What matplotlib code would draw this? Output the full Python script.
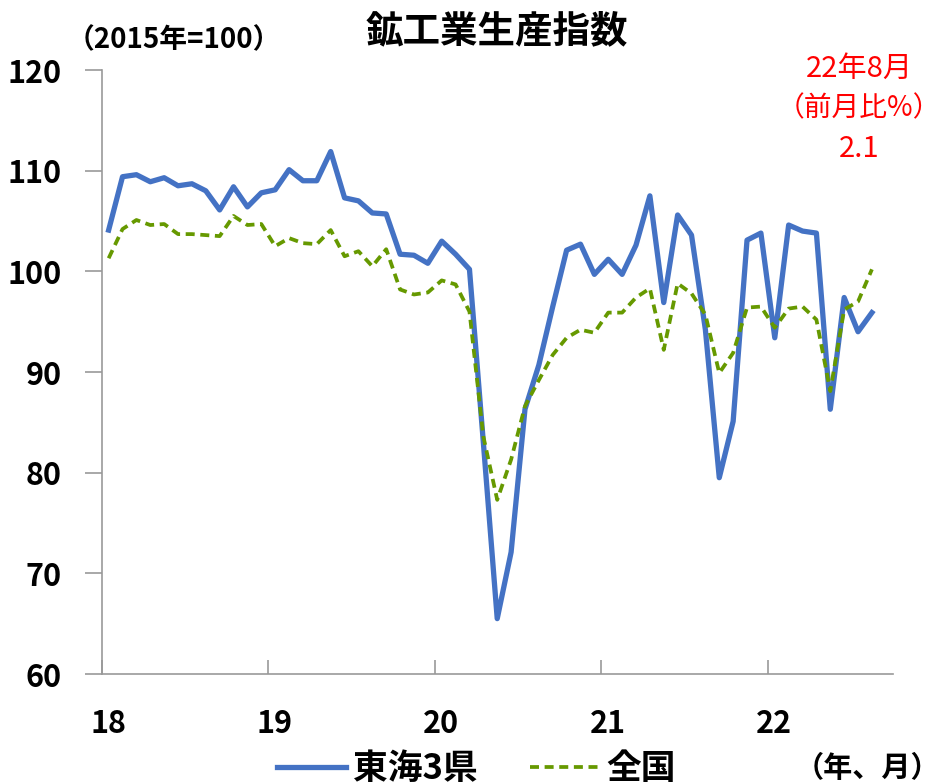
import numpy as np
import matplotlib.pyplot as plt

plt.rcParams['font.family'] = ['Noto Sans CJK JP', 'DejaVu Sans']

# 2018/1 - 2022/8 (monthly, 2015=100)
tokai = [104.1, 109.4, 109.6, 108.9, 109.3, 108.5, 108.7, 108.0, 106.1, 108.4, 106.4, 107.8,
         108.1, 110.1, 109.0, 109.0, 111.9, 107.3, 107.0, 105.8, 105.7, 101.7, 101.6, 100.8,
         103.0, 101.7, 100.2, 83.0, 65.5, 72.1, 86.3, 90.7, 96.5, 102.1, 102.7, 99.7,
         101.2, 99.7, 102.6, 107.5, 96.9, 105.6, 103.6, 94.2, 79.5, 85.1, 103.1, 103.8,
         93.4, 104.6, 104.0, 103.8, 86.3, 97.4, 94.0, 95.9]
zenkoku = [101.3, 104.2, 105.1, 104.6, 104.7, 103.7, 103.7, 103.6, 103.5, 105.5, 104.6, 104.7,
           102.5, 103.3, 102.8, 102.7, 104.1, 101.5, 102.0, 100.5, 102.2, 98.2, 97.7, 97.9,
           99.1, 98.7, 96.0, 83.6, 77.3, 81.3, 86.6, 89.2, 91.7, 93.4, 94.2, 93.9,
           95.9, 95.9, 97.4, 98.3, 92.2, 98.8, 97.8, 95.7, 89.9, 91.9, 96.4, 96.5,
           94.4, 96.3, 96.5, 95.2, 88.1, 96.2, 97.0, 100.2]
years = ['18', '19', '20', '21', '22']
yticks = [60, 70, 80, 90, 100, 110, 120]

fig = plt.figure(figsize=(9.47, 7.84), dpi=100)
ax = fig.add_axes([0.1074, 0.1403, 0.8353, 0.7704])

x = np.arange(len(tokai))
ax.plot(x, tokai, color='#4472C4', lw=3.8, label='東海3県')
ax.plot(x, zenkoku, color='#669900', lw=2.7, ls=(0, (2.4, 1.5)), label='全国')

ax.set_xlim(-0.5, 56.5)
ax.set_ylim(60, 120)
ax.set_yticks(yticks)
ax.set_yticklabels([str(v) for v in yticks], fontsize=22, fontweight='bold')
ax.set_xticks([-0.5 + 12 * i for i in range(len(years))])
ax.set_xticklabels([])
ax.tick_params(axis='x', direction='in', length=10, color='#999999', width=1.2)
ax.tick_params(axis='y', direction='out', length=12, color='#999999', width=1.2, pad=17)
for s in ['top', 'right']:
    ax.spines[s].set_visible(False)
for s in ['left', 'bottom']:
    ax.spines[s].set_color('#999999')
    ax.spines[s].set_linewidth(1.2)

for i, lab in enumerate(years):
    ax.text(12 * i - 0.05, -0.082, lab, transform=ax.get_xaxis_transform(),
            ha='center', va='center', fontsize=22, fontweight='bold')

fig.text(0.525, 1 - 31 / 784, '鉱工業生産指数', ha='center', va='center',
         fontsize=27, fontweight='bold')
fig.text(0.070, 1 - 40 / 784, '（2015年=100）', ha='left', va='center',
         fontsize=20, fontweight='bold')

fig.text(859 / 947, 1 - 69 / 784, '22年8月', ha='center', va='center', fontsize=21, color='red')
fig.text(859 / 947, 1 - 108 / 784, '（前月比%）', ha='center', va='center', fontsize=20, color='red')
fig.text(859 / 947, 1 - 149 / 784, '2.1', ha='center', va='center', fontsize=21, color='red')

fig.legend(loc='center', bbox_to_anchor=(0.503, 0.02), ncol=2, frameon=False,
           prop={'size': 25, 'weight': 'bold'}, handlelength=2.0, handletextpad=0.2,
           columnspacing=1.5)
fig.text(0.993, 1 - 768 / 784, '（年、月）', ha='right', va='center', fontsize=21, fontweight='bold')

fig.savefig('out.png', dpi=100)
